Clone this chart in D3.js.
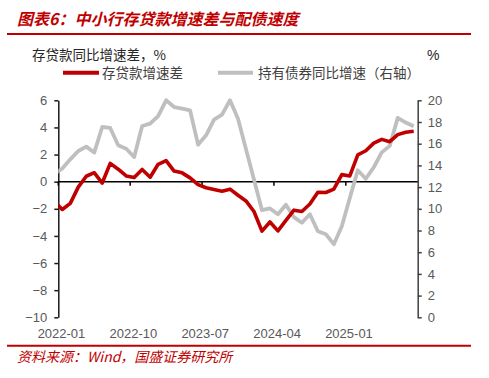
<!DOCTYPE html>
<html>
<head>
<meta charset="utf-8">
<script src="https://cdn.jsdelivr.net/npm/d3@7"></script>
<style>
html,body{margin:0;padding:0;background:#fff;}
svg{display:block;}
</style>
</head>
<body>
<svg id="chart" width="489" height="378"></svg>
<script>
// ---- data ----
// month categories (first entry 2021-12 only feeds the line segment that enters at the left axis)
const months = [];
for (let k = 0; k < 46; k++) {
  const y = 2021 + Math.floor((11 + k) / 12);
  const m = (11 + k) % 12 + 1;
  months.push(y + "-" + String(m).padStart(2, "0"));
}
const depositLoanGap = [
  -1.45,
  -2.05, -1.6, -0.4, 0.4, 0.66, -0.1, 1.35, 0.92, 0.42, 0.3,
  0.9, 0.33, 1.28, 1.55, 0.78, 0.65, 0.28, -0.22, -0.45, -0.58,
  -0.7, -0.55, -1.0, -1.42, -2.2, -3.65, -2.97, -3.63, -2.85, -2.1,
  -2.2, -1.65, -0.78, -0.8, -0.55, 0.52, 0.42, 1.98, 2.28, 2.84,
  3.12, 2.95, 3.47, 3.65, 3.72
];
const bondHoldingGrowth = [
  13.2,
  13.71, 14.56, 15.33, 15.73, 15.18, 17.54, 17.45, 15.85, 15.54, 14.77,
  17.63, 17.85, 18.55, 20.0, 19.38, 19.23, 19.07, 15.91, 16.77, 18.22,
  18.68, 20.0, 18.3, 15.5, 12.7, 9.87, 10.03, 9.5, 10.38, 9.23,
  8.72, 9.5, 7.93, 7.66, 6.74, 8.4, 11.0, 13.55, 12.77, 13.83,
  15.2, 15.8, 18.38, 17.95, 17.6
];
const xTickLabels = ["2022-01", "2022-10", "2023-07", "2024-04", "2025-01"];
const leftTicks = [-10, -8, -6, -4, -2, 0, 2, 4, 6];
const rightTicks = [0, 2, 4, 6, 8, 10, 12, 14, 16, 18, 20];
const seriesNames = ["存贷款增速差", "持有债券同比增速（右轴）"];

// ---- layout ----
const svg = d3.select("#chart");
const L = 58.3, R = 417.7, T = 100.3, B = 317.3;
const red = "#C00000", gray = "#BFBFBF";
const numFont = "'Liberation Sans', Arial, sans-serif";
const cjkFont = "'Noto Sans CJK SC', sans-serif";

const x = d3.scaleLinear().domain([0.5, 45.5]).range([L, R]);
const yL = d3.scaleLinear().domain([-10, 6]).range([B, T]);
const yR = d3.scaleLinear().domain([0, 20]).range([B, T]);

svg.append("rect").attr("width", 489).attr("height", 378).attr("fill", "#fff");

// title
svg.append("text").attr("x", 17).attr("y", 25)
  .attr("font-family", cjkFont).attr("font-size", 16).attr("font-weight", "bold")
  .attr("font-style", "italic").attr("fill", red)
  .text("图表6：中小行存贷款增速差与配债速度");
svg.append("line").attr("x1", 7).attr("x2", 471).attr("y1", 34).attr("y2", 34)
  .attr("stroke", red).attr("stroke-width", 2);

// axis titles
svg.append("text").attr("x", 32).attr("y", 60)
  .attr("font-family", cjkFont).attr("font-size", 13.5).attr("fill", "#262626")
  .text("存贷款同比增速差，%");
svg.append("text").attr("x", 427).attr("y", 60)
  .attr("font-family", numFont).attr("font-size", 14).attr("fill", "#262626")
  .text("%");

// legend
const leg = [{x1: 63, x2: 99, tx: 102, c: red, t: seriesNames[0]},
             {x1: 218, x2: 253, tx: 258, c: gray, t: seriesNames[1]}];
leg.forEach(d => {
  svg.append("line").attr("x1", d.x1).attr("x2", d.x2).attr("y1", 72.7).attr("y2", 72.7)
    .attr("stroke", d.c).attr("stroke-width", 4);
  svg.append("text").attr("x", d.tx).attr("y", 77.8)
    .attr("font-family", cjkFont).attr("font-size", 13.5).attr("fill", "#404040")
    .text(d.t);
});

// left axis
const gl = svg.append("g").attr("transform", `translate(${L},0)`)
  .call(d3.axisLeft(yL).tickValues(leftTicks).tickSize(4).tickSizeOuter(0).tickPadding(7));
gl.select(".domain").attr("stroke", "#1a1a1a").attr("stroke-width", 1.5);
gl.selectAll(".tick line").attr("stroke", "#1a1a1a").attr("stroke-width", 1.5);
gl.selectAll(".tick text").attr("font-family", numFont).attr("font-size", 13).attr("fill", "#595959");

// right axis
const gr = svg.append("g").attr("transform", `translate(${R},0)`)
  .call(d3.axisRight(yR).tickValues(rightTicks).tickSize(4).tickSizeOuter(0).tickPadding(6));
gr.select(".domain").attr("stroke", "#404040").attr("stroke-width", 1.5);
gr.selectAll(".tick line").attr("stroke", "#404040").attr("stroke-width", 1.5);
gr.selectAll(".tick text").attr("font-family", numFont).attr("font-size", 13).attr("fill", "#595959");

// zero line with ticks (category boundaries)
svg.append("line").attr("x1", L).attr("x2", R).attr("y1", yL(0)).attr("y2", yL(0))
  .attr("stroke", "#000").attr("stroke-width", 1.5);
xTickLabels.forEach(lbl => {
  const i = months.indexOf(lbl);
  const bx = x(i - 0.5);
  svg.append("line").attr("x1", bx).attr("x2", bx).attr("y1", yL(0)).attr("y2", yL(0) + 4)
    .attr("stroke", "#000").attr("stroke-width", 1.5);
  svg.append("text").attr("x", x(i) - 0.8).attr("y", 338)
    .attr("text-anchor", "middle").attr("font-family", numFont).attr("font-size", 13)
    .attr("fill", "#595959").text(lbl);
});

// clip
svg.append("clipPath").attr("id", "plot").append("rect")
  .attr("x", L).attr("y", 90).attr("width", R - L).attr("height", B - 90 + 5);

const lineG = d3.line().x((d, i) => x(i)).y(d => yR(d));
const lineR = d3.line().x((d, i) => x(i)).y(d => yL(d));

svg.append("path").datum(bondHoldingGrowth).attr("clip-path", "url(#plot)")
  .attr("d", lineG).attr("fill", "none").attr("stroke", gray)
  .attr("stroke-width", 3.8).attr("stroke-linejoin", "round");
svg.append("path").datum(depositLoanGap).attr("clip-path", "url(#plot)")
  .attr("d", lineR).attr("fill", "none").attr("stroke", red)
  .attr("stroke-width", 3.6).attr("stroke-linejoin", "round");

// footer
svg.append("line").attr("x1", 7).attr("x2", 471).attr("y1", 345.7).attr("y2", 345.7)
  .attr("stroke", red).attr("stroke-width", 2);
svg.append("text").attr("x", 17).attr("y", 362)
  .attr("font-family", cjkFont).attr("font-size", 14).attr("font-style", "italic")
  .attr("fill", red).text("资料来源：Wind，国盛证券研究所");
</script>
</body>
</html>
